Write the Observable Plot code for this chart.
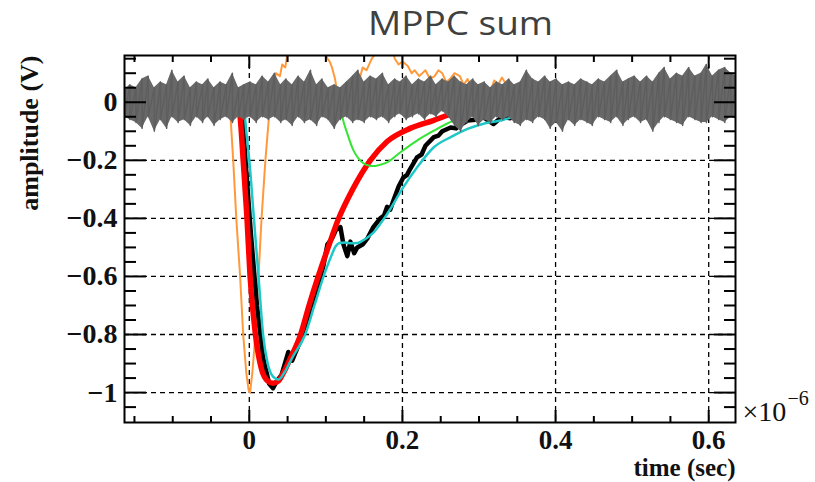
<!DOCTYPE html>
<html><head><meta charset="utf-8">
<script src="https://cdn.jsdelivr.net/npm/d3@7"></script>
<script src="https://cdn.jsdelivr.net/npm/@observablehq/plot@0.6"></script>
<style>
body{margin:0;background:#fff;width:815px;height:482px;overflow:hidden;position:relative;}
#title{position:absolute;left:368px;top:0;font-family:"Open Sans",sans-serif;font-size:33px;line-height:normal;color:#404040;transform:scaleX(1.12);transform-origin:left top;white-space:nowrap;}
#chart{position:absolute;left:0;top:48px;}
</style></head><body>
<div id="title">MPPC sum</div>
<div id="chart"></div>
<script>
// ---- tick values and labels (time in units of 1e-6 s) ----
const xMajor = [0, 0.2, 0.4, 0.6];
const xTickLabels = ["0", "0.2", "0.4", "0.6"];
const xMinor = [-0.15, -0.1, -0.05, 0.05, 0.1, 0.15, 0.25, 0.3, 0.35, 0.45, 0.5, 0.55];
const yMajor = [0, -0.2, -0.4, -0.6, -0.8, -1];
const yTickLabels = ["0", "\u22120.2", "\u22120.4", "\u22120.6", "\u22120.8", "\u22121"];
const yMinor = [0.15, 0.1, 0.05, -0.05, -0.1, -0.15, -0.25, -0.3, -0.35, -0.45, -0.5, -0.55, -0.65, -0.7, -0.75, -0.85, -0.9, -0.95, -1.05];

// ---- orange trace ----
const orangeT = [-0.163,-0.145,-0.133,-0.120,-0.107,-0.095,-0.080,-0.065,-0.055,-0.045,-0.035,-0.028,-0.025,-0.021,-0.017,-0.012,-0.008,-0.004,-0.001,0.001,0.004,0.008,0.012,0.016,0.021,0.026,0.031,0.035,0.040,0.043,0.047,0.050,0.060,0.080,0.098,0.102,0.105,0.108,0.112,0.115,0.120,0.130,0.138,0.139,0.144,0.148,0.153,0.160,0.168,0.178,0.183,0.186,0.190,0.195,0.200,0.207,0.212,0.216,0.222,0.230,0.236,0.242,0.247,0.252,0.257,0.262,0.268,0.275,0.280,0.285,0.290,0.298,0.305,0.310,0.315,0.320,0.325,0.330,0.338,0.345,0.360,0.370,0.400,0.430,0.460,0.490,0.520,0.570,0.600,0.620,0.636];
const orangeV = [0.01,0.03,0.05,-0.02,-0.05,0.01,0.03,0.05,0.04,0.00,0.02,0.00,-0.03,-0.2,-0.4,-0.6,-0.8,-0.93,-0.99,-1.0,-0.93,-0.8,-0.6,-0.4,-0.2,-0.04,0.06,0.10,0.09,0.13,0.12,0.17,0.20,0.22,0.18,0.15,0.14,0.12,0.08,0.03,0.01,0.02,0.04,0.09,0.08,0.12,0.11,0.15,0.18,0.20,0.17,0.19,0.15,0.13,0.14,0.125,0.10,0.11,0.09,0.11,0.08,0.09,0.11,0.10,0.07,0.08,0.10,0.09,0.06,0.08,0.05,0.06,0.02,0.0,0.04,0.075,0.06,0.085,0.05,0.05,0.0,-0.03,0.0,0.06,0.05,-0.02,0.01,-0.01,-0.04,-0.03,0.0];

// ---- black measured trace ----
const blackT = [-0.163,-0.010,-0.005,0.002,0.010,0.018,0.026,0.031,0.036,0.042,0.051,0.056,0.070,0.085,0.097,0.102,0.108,0.113,0.119,0.123,0.128,0.132,0.137,0.141,0.148,0.154,0.162,0.171,0.176,0.180,0.184,0.188,0.195,0.201,0.206,0.210,0.219,0.225,0.230,0.241,0.247,0.252,0.263,0.270,0.275,0.285,0.295,0.306,0.319,0.330,0.341,0.360,0.380,0.400,0.636];
const blackV = [0,0,-0.2,-0.45,-0.7,-0.88,-0.97,-0.985,-0.96,-0.94,-0.86,-0.89,-0.8,-0.68,-0.56,-0.49,-0.47,-0.44,-0.43,-0.49,-0.53,-0.48,-0.52,-0.5,-0.49,-0.47,-0.43,-0.4,-0.39,-0.36,-0.37,-0.34,-0.29,-0.26,-0.25,-0.23,-0.19,-0.18,-0.15,-0.12,-0.115,-0.1,-0.087,-0.09,-0.08,-0.063,-0.06,-0.052,-0.075,-0.05,-0.055,-0.02,-0.01,0,0];

// ---- red fit ----
const redT = [-0.163,-0.016,-0.012,-0.008,-0.003,0.001,0.008,0.016,0.024,0.031,0.038,0.045,0.054,0.067,0.078,0.090,0.103,0.116,0.135,0.158,0.180,0.210,0.240,0.270,0.300,0.350,0.400,0.636];
const redV = [0,0,-0.05,-0.2,-0.4,-0.6,-0.8,-0.92,-0.96,-0.968,-0.96,-0.93,-0.88,-0.8,-0.7,-0.6,-0.5,-0.405,-0.3,-0.2,-0.135,-0.09,-0.063,-0.035,-0.018,-0.005,0,0];

// ---- cyan fit ----
const cyanT = [-0.163,-0.008,-0.004,0.000,0.006,0.012,0.018,0.024,0.031,0.038,0.046,0.056,0.073,0.085,0.097,0.107,0.113,0.118,0.125,0.134,0.141,0.152,0.162,0.180,0.201,0.219,0.241,0.263,0.285,0.306,0.328,0.341,0.354,0.370,0.400,0.450,0.636];
const cyanV = [0,0,-0.1,-0.2,-0.4,-0.6,-0.8,-0.9,-0.945,-0.955,-0.93,-0.88,-0.8,-0.7,-0.6,-0.53,-0.495,-0.485,-0.483,-0.486,-0.485,-0.47,-0.449,-0.385,-0.293,-0.225,-0.155,-0.12,-0.092,-0.074,-0.063,-0.053,-0.036,-0.02,-0.01,0,0];

// ---- green fit ----
const greenT = [0.118,0.120,0.122,0.128,0.136,0.143,0.149,0.156,0.162,0.170,0.180,0.197,0.219,0.241,0.267,0.293,0.320,0.350,0.400,0.450];
const greenV = [0.0,-0.03,-0.056,-0.108,-0.166,-0.195,-0.21,-0.218,-0.22,-0.216,-0.207,-0.173,-0.132,-0.098,-0.063,-0.04,-0.02,-0.005,0,0];

// ---- grey noise trace: envelope read at regular times ----
const bandT = [-0.163,-0.156,-0.148,-0.140,-0.132,-0.124,-0.116,-0.108,-0.101,-0.093,-0.085,-0.077,-0.069,-0.061,-0.054,-0.046,-0.038,-0.030,-0.022,-0.014,-0.007,0.001,0.009,0.017,0.025,0.033,0.041,0.048,0.056,0.064,0.072,0.080,0.088,0.095,0.103,0.111,0.119,0.127,0.135,0.142,0.150,0.158,0.166,0.174,0.182,0.190,0.197,0.205,0.213,0.221,0.229,0.237,0.244,0.252,0.260,0.268,0.276,0.284,0.292,0.299,0.307,0.315,0.323,0.331,0.339,0.346,0.354,0.362,0.370,0.378,0.386,0.393,0.401,0.409,0.417,0.425,0.433,0.441,0.448,0.456,0.464,0.472,0.480,0.488,0.495,0.503,0.511,0.519,0.527,0.535,0.542,0.550,0.558,0.566,0.574,0.582,0.590,0.597,0.605,0.613,0.621,0.629,0.637];
const bandHi = [.04,.06,.05,.08,.09,.05,.07,.06,.11,.07,.09,.05,.07,.06,.08,.05,.07,.06,.10,.05,.06,.07,.06,.09,.07,.10,.06,.08,.06,.09,.07,.11,.06,.08,.05,.06,.05,.07,.09,.11,.07,.09,.08,.10,.06,.08,.07,.09,.06,.08,.07,.09,.06,.08,.07,.09,.07,.06,.08,.06,.07,.05,.07,.06,.08,.06,.07,.11,.08,.07,.09,.07,.08,.06,.07,.06,.08,.07,.06,.08,.07,.09,.11,.07,.08,.09,.07,.09,.07,.10,.12,.08,.10,.09,.12,.09,.10,.13,.09,.11,.12,.10,.09];
const bandLo = [-.05,-.06,-.07,-.09,-.05,-.10,-.06,-.09,-.05,-.07,-.06,-.08,-.05,-.07,-.05,-.08,-.06,-.05,-.07,-.05,-.06,-.05,-.07,-.05,-.06,-.05,-.07,-.06,-.08,-.05,-.07,-.06,-.08,-.05,-.06,-.09,-.06,-.05,-.07,-.06,-.07,-.05,-.06,-.05,-.07,-.05,-.04,-.06,-.05,-.04,-.06,-.04,-.05,-.03,-.05,-.08,-.10,-.07,-.05,-.08,-.06,-.07,-.05,-.06,-.05,-.07,-.08,-.06,-.07,-.05,-.06,-.09,-.07,-.10,-.06,-.08,-.06,-.07,-.08,-.05,-.06,-.07,-.05,-.08,-.06,-.05,-.07,-.06,-.10,-.07,-.05,-.06,-.07,-.08,-.05,-.06,-.07,-.07,-.05,-.06,-.07,-.05,-.06];

const rows = (T, V) => T.map((t, i) => ({t, v: V[i]}));
const band = bandT.map((t, i) => ({t, hi: bandHi[i], lo: bandLo[i]}));
const zig = band.flatMap(d => [{t: d.t, v: d.hi}, {t: d.t, v: d.lo}]);
const ln = (stroke, w, curve = "linear") => ({x: "t", y: "v", stroke, strokeWidth: w, curve, clip: true, strokeLinejoin: "round", strokeLinecap: "round"});

const serif = "'Liberation Serif', 'Times New Roman', serif";
const tickMark = (k, anchor, ticks, size) => (k === "x" ? Plot.axisX : Plot.axisY)({
  anchor, ticks, tickSize: -size, tickFormat: () => "", label: null, stroke: "#000", strokeWidth: 2
});

const chart = Plot.plot({
  width: 815, height: 434,
  marginLeft: 124, marginRight: 80, marginTop: 7, marginBottom: 60,
  x: {domain: [-0.163, 0.635]},
  y: {domain: [-1.103, 0.161]},
  style: {background: "white", fontFamily: serif, overflow: "visible"},
  marks: [
    Plot.ruleX(xMajor, {stroke: "#000", strokeWidth: 1.3, strokeDasharray: "5,4"}),
    Plot.ruleY(yMajor, {stroke: "#000", strokeWidth: 1.3, strokeDasharray: "5,4"}),
    Plot.line(rows(orangeT, orangeV), ln("#ff9a3c", 2)),
    Plot.line(rows(blackT, blackV), ln("#000000", 4.5)),
    Plot.line(rows(redT, redV), ln("#ff0000", 5.5, "monotone-x")),
    Plot.line(rows(cyanT, cyanV), ln("#1ec8c8", 2.5, "monotone-x")),
    Plot.line(rows(greenT, greenV), ln("#33e633", 2, "monotone-x")),
    Plot.areaY(band, {x: "t", y1: "lo", y2: "hi", fill: "#686868", clip: true}),
    Plot.line(zig, {x: "t", y: "v", stroke: "#5e5e5e", strokeWidth: 1.4, clip: true}),
    tickMark("x", "bottom", xMajor, 12), tickMark("x", "bottom", xMinor, 6),
    tickMark("x", "top", xMajor, 12), tickMark("x", "top", xMinor, 6),
    tickMark("y", "left", yMajor, 22), tickMark("y", "left", yMinor, 12),
    tickMark("y", "right", yMajor, 22), tickMark("y", "right", yMinor, 12),
    Plot.axisX({anchor: "bottom", ticks: xMajor, tickSize: 0, tickPadding: 7, label: null,
      tickFormat: d => xTickLabels[xMajor.indexOf(d)], fontSize: 27, fontWeight: "bold", fill: "#111"}),
    Plot.axisY({anchor: "left", ticks: yMajor, tickSize: 0, tickPadding: 7, label: null,
      tickFormat: d => yTickLabels[yMajor.indexOf(d)], fontSize: 28, fontWeight: "bold", fill: "#111"}),
    Plot.text(["amplitude (V)"], {frameAnchor: "top-left", dx: -95, rotate: -90, textAnchor: "end", lineAnchor: "middle", fontSize: 26, fontWeight: "bold", fill: "#111"}),
    Plot.text(["time (sec)"], {frameAnchor: "bottom-right", dy: 45, textAnchor: "end", lineAnchor: "middle", fontSize: 25, fontWeight: "bold", fill: "#111"}),
    Plot.text(["\u00d710"], {frameAnchor: "bottom-right", dx: 7, dy: -10, textAnchor: "start", lineAnchor: "middle", fontSize: 28, fill: "#111"}),
    Plot.text(["\u22126"], {frameAnchor: "bottom-right", dx: 52, dy: -24, textAnchor: "start", lineAnchor: "middle", fontSize: 20, fill: "#111"}),
    Plot.frame({stroke: "#000", strokeWidth: 2})
  ]
});
document.getElementById("chart").appendChild(chart);
</script>
</body></html>
